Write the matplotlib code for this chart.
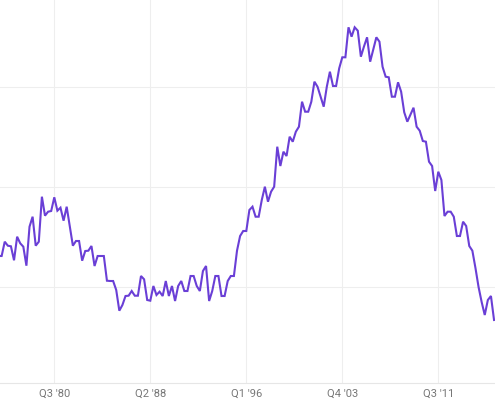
import matplotlib
matplotlib.use("Agg")
import matplotlib.pyplot as plt
import numpy as np

# Quarterly series, Q1 '76 .. Q1 '16 (arbitrary units)
values = [
    131, 131, 145.3, 141.3, 140.7, 126.7, 150.3, 143.7, 140.3, 121.3,
    160.3, 170.3, 141.3, 145.3, 190.3, 171.3, 175.3, 176, 189.7, 176.3,
    179.3, 166.3, 180.3, 161, 141.3, 146, 146, 126.3, 136, 136.3,
    141, 121, 131, 131, 131, 106.3, 106, 106, 97, 76.3,
    82, 91, 91.3, 96, 91.3, 91.3, 111, 107.7, 87, 86.3,
    101, 92, 95.3, 91, 106, 91, 101, 86, 101, 106,
    96, 96, 111, 111, 101, 96, 116, 121, 86, 96,
    111, 111, 91, 91, 106, 111, 111, 136.3, 151, 156,
    156, 177, 180.3, 170.3, 170.3, 187, 200.3, 185.3, 195.3, 200.3,
    240.3, 221, 235.3, 231, 250.3, 245.3, 255.3, 260.3, 285.3, 275.3,
    275.3, 285.3, 305.3, 300.3, 290.3, 280.3, 300.3, 315.3, 301, 301,
    318.7, 329.7, 329.7, 359.7, 350.3, 359.7, 356.3, 330.3, 340.5, 349.7,
    325.3, 337.7, 349.7, 345.3, 320.3, 310.3, 309.7, 290.3, 290.3, 304.7,
    295.3, 274.7, 265.3, 272.3, 279.3, 260.3, 256.3, 246, 245.3, 225.3,
    221, 196, 215.3, 207, 171, 175.3, 175.3, 170.3, 151, 151,
    165.3, 161, 141, 136.3, 119, 100, 85, 72, 87, 91,
    67,
]
tick_labels = ["Q3 '80", "Q2 '88", "Q1 '96", "Q4 '03", "Q3 '11"]
tick_index = [18, 49, 80, 111, 142]
y_grid = [100, 200, 300]

x = np.arange(len(values))

fig = plt.figure(figsize=(4.95, 4.0), dpi=100)
ax = fig.add_axes([0, 17 / 400, 1, 383 / 400])
ax.plot(x, values, color="#6A3FD6", lw=1.5, solid_joinstyle="miter", zorder=3)

ax.set_xlim(0.47, 160.31)
ax.set_ylim(4, 387)
ax.set_xticks(tick_index)
ax.set_xticklabels(tick_labels, family=["Roboto", "DejaVu Sans"], fontsize=8, color="#777777")
ax.set_yticks(y_grid)
ax.set_yticklabels([])
ax.tick_params(axis="both", length=0, pad=4)
ax.grid(True, color="#EEEEEE", lw=0.8, zorder=0)
for s in ["top", "left", "right"]:
    ax.spines[s].set_visible(False)
ax.spines["bottom"].set_color("#E6E6E6")
ax.spines["bottom"].set_linewidth(0.8)

fig.savefig("out.png", dpi=100)
